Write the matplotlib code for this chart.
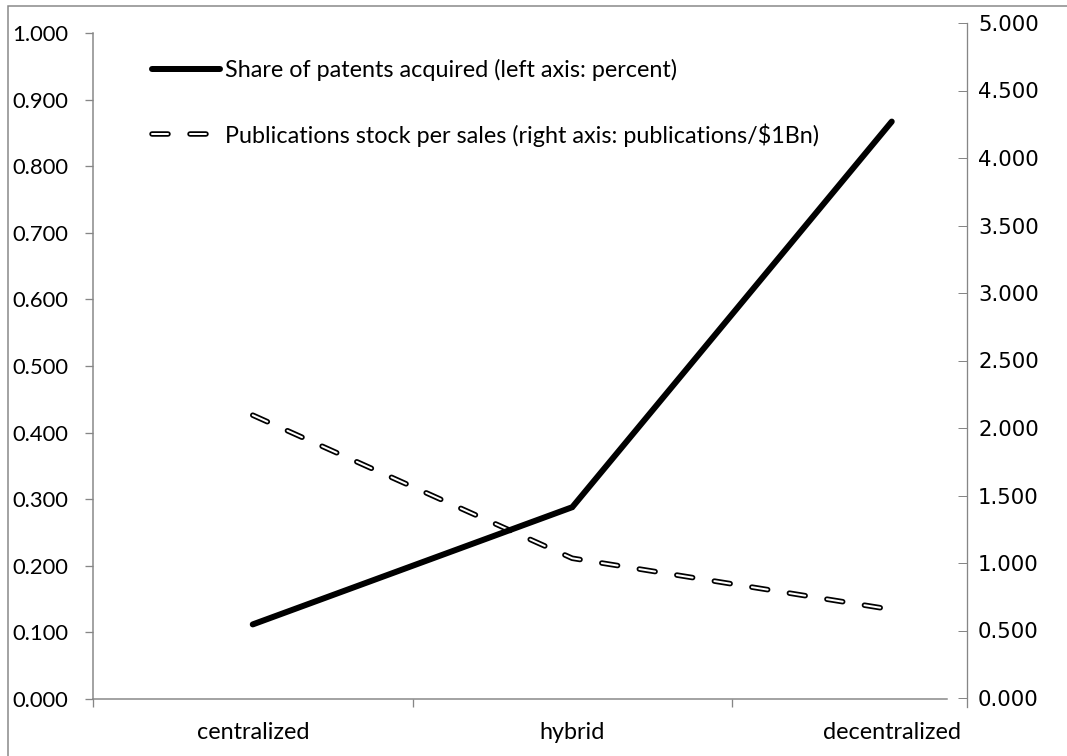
import matplotlib
matplotlib.use("Agg")
import matplotlib.pyplot as plt
import matplotlib.patheffects as pe
from matplotlib.patches import Rectangle
import numpy as np

# data
categories = ["centralized", "hybrid", "decentralized"]
patent_share = [0.112, 0.288, 0.867]          # left axis
pubs_per_sales = [2.095, 1.035, 0.655]        # right axis
left_ticks = [0.0, 0.1, 0.2, 0.3, 0.4, 0.5, 0.6, 0.7, 0.8, 0.9, 1.0]
right_ticks = [0.0, 0.5, 1.0, 1.5, 2.0, 2.5, 3.0, 3.5, 4.0, 4.5, 5.0]
label_patents = "Share of patents acquired (left axis: percent)"
label_pubs = "Publications stock per sales (right axis: publications/$1Bn)"

plt.rcParams["font.family"] = ["Lato", "DejaVu Sans"]
plt.rcParams["lines.scale_dashes"] = False

W, H, DPI = 1067, 756, 100
PX = 72.0 / DPI  # points per pixel
GRAY = "#868686"

fig = plt.figure(figsize=(W / DPI, H / DPI), dpi=DPI)
fig.patch.set_facecolor("white")

# pixel layout
x0, x1, xr = 93, 947, 967
unit = 319.5
xmin = -0.5
ax1 = fig.add_axes([x0 / W, (H - 699) / H, (x1 - x0) / W, 666 / H])
ax2 = fig.add_axes([x0 / W, (H - 707) / H, (xr - x0) / W, 684 / H])

ax1.set_xlim(xmin, xmin + (x1 - x0) / unit)
ax2.set_xlim(xmin, xmin + (xr - x0) / unit)
ax1.set_ylim(0, 1.0)
ax2.set_ylim(-9 / 675 * 5, 5.0)

x = np.arange(len(categories))

ax1.set_zorder(2); ax1.patch.set_visible(False)
ax2.set_zorder(1); ax2.patch.set_visible(False)

l1, = ax1.plot(x, patent_share, color="black", lw=6 * PX,
               solid_capstyle="round", solid_joinstyle="miter", clip_on=False)
l2, = ax2.plot(x, pubs_per_sales, color="white", lw=2 * PX,
               dashes=(16 * PX, 22 * PX), dash_capstyle="round", clip_on=False,
               path_effects=[pe.Stroke(linewidth=5.5 * PX, foreground="black"), pe.Normal()])

# left axis
for s in ("top", "right"):
    ax1.spines[s].set_visible(False)
for s in ("left", "bottom"):
    ax1.spines[s].set_color(GRAY); ax1.spines[s].set_linewidth(1.5 * PX)
ax1.set_yticks(left_ticks)
ax1.set_yticklabels([f"{v:.3f}" for v in left_ticks])
ax1.tick_params(axis="y", direction="out", length=8 * PX, width=1.3 * PX,
                color=GRAY, labelsize=15.8, pad=17 * PX, labelcolor="black")
ax1.set_xticks([-0.5, 0.5, 1.5])
ax1.set_xticklabels([])
ax1.set_xticks(x, minor=True)
ax1.set_xticklabels(categories, minor=True)
ax1.tick_params(axis="x", which="major", direction="out", length=8 * PX,
                width=1.3 * PX, color=GRAY)
ax1.tick_params(axis="x", which="minor", length=0, labelsize=16.8, pad=23 * PX)

# right axis
for s in ("top", "left", "bottom"):
    ax2.spines[s].set_visible(False)
ax2.spines["right"].set_color(GRAY); ax2.spines["right"].set_linewidth(1.3 * PX)
ax2.xaxis.set_visible(False)
ax2.yaxis.tick_right()
ax2.set_yticks(right_ticks)
ax2.set_yticklabels([f"{v:.3f}" for v in right_ticks], family="DejaVu Sans")
ax2.tick_params(axis="y", direction="in", length=9 * PX, width=1.0 * PX,
                color=GRAY, labelsize=15.3, pad=11 * PX)

leg = ax1.legend([l1, l2], [label_patents, label_pubs], loc="upper left",
                 bbox_to_anchor=(152 / W, 1 - 59 / H), bbox_transform=fig.transFigure,
                 frameon=False, borderpad=0, borderaxespad=0,
                 handlelength=2.92, handletextpad=0.21, labelspacing=1.8,
                 prop={"family": "Lato", "size": 16.8})

# chart-area border (cropped on the right and bottom)
fig.add_artist(Rectangle((8 / W, -0.05), 1.2, 1 - 6 / H + 0.05,
                         transform=fig.transFigure, fill=False,
                         ec=GRAY, lw=1.5 * PX))

fig.savefig("out.png", dpi=DPI)
